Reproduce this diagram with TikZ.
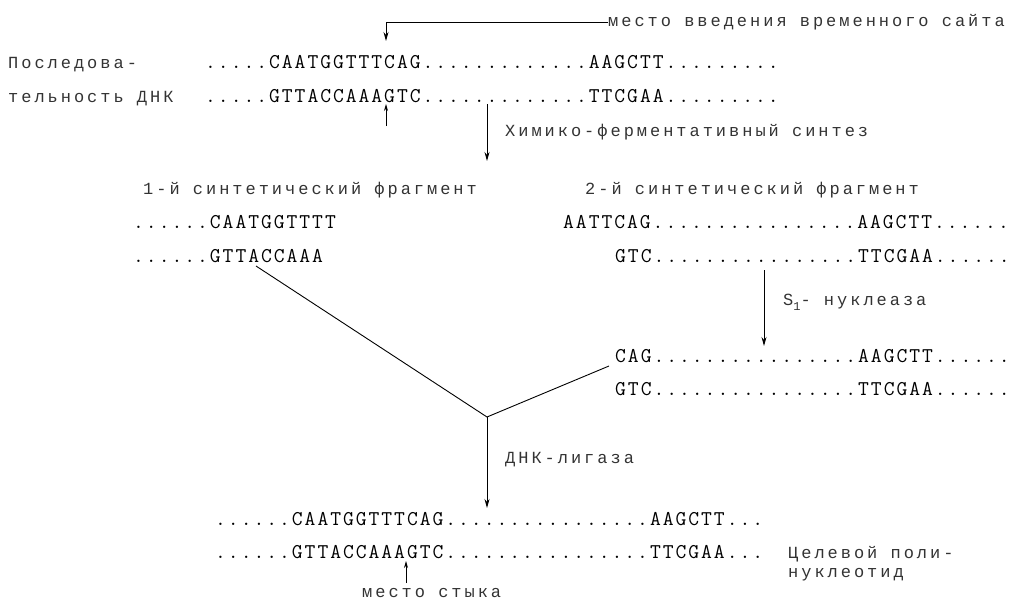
\documentclass[tikz,border=0pt]{standalone}
\usepackage{fontspec}
\newfontfamily\twl[LetterSpace=17.5]{Liberation Mono}
\newfontfamily\lmt[LetterSpace=9.4]{Latin Modern Mono}
\usetikzlibrary{arrows.meta,calc}
\begin{document}
\begin{tikzpicture}[x=1pt,y=-1pt,
  seq/.style={anchor=base west,inner sep=0pt,font=\lmt\fontsize{21}{23}\selectfont},
  lab/.style={anchor=base west,inner sep=0pt,font=\twl\fontsize{17}{19}\selectfont,text=black!80},
  arr/.style={-{Stealth[length=9pt,width=5pt]},line width=0.9pt},
  sarr/.style={-{Stealth[length=7pt,width=4pt]},line width=0.8pt},
  link/.style={line width=0.9pt}]
\useasboundingbox (0,0) rectangle (1025,602);
% left labels
\node[lab] (p1) at (8,68) {Последова-};
\node[lab] (p2) at (8,102) {тельность ДНК};
% original sequence
\node[seq] (r1) at (205,68) {.....CAATGGTTTCAG.............AAGCTT.........};
\node[seq] (r2) at (205,102) {.....GTTACCAAAGTC.............TTCGAA.........};
% site label and arrow
\node[lab] (site) at (608,27) {место введения временного сайта};
\coordinate (s1) at (386,41);
\draw[arr] (site.west) -| (s1);
\coordinate (u1a) at (386,126);
\coordinate (u1b) at (386,104);
\draw[sarr] (u1a) -- (u1b);
% synthesis
\coordinate (m1) at (487,104);
\coordinate (m2) at (487,161);
\draw[arr] (m1) -- (m2);
\node[lab] (chem) at (505,136) {Химико-ферментативный синтез};
\node[lab] (f1) at (143,194) {1-й синтетический фрагмент};
\node[lab] (f2) at (585,194) {2-й синтетический фрагмент};
% fragment 1
\node[seq] (r3) at (133,228) {......CAATGGTTTT};
\node[seq] (r4) at (133,262) {......GTTACCAAA};
% fragment 2
\node[seq] (r5) at (563,228) {AATTCAG................AAGCTT......};
\node[seq] (r6) at (615,262) {GTC................TTCGAA......};
% S1 nuclease
\coordinate (n1) at (764,270);
\coordinate (n2) at (764,346);
\draw[arr] (n1) -- (n2);
\node[lab] (s1lab) at (783,305) {S\raisebox{-5pt}{\fontsize{12}{13}\selectfont 1}- нуклеаза};
\node[seq] (r7) at (615,362) {CAG................AAGCTT......};
\node[seq] (r8) at (615,395) {GTC................TTCGAA......};
% ligation
\coordinate (j) at (487,417);
\coordinate (la) at (256,266);
\coordinate (lb) at (609,366);
\draw[link] (la) -- (j) -- (lb);
\coordinate (j2) at (487,508);
\draw[arr] (j) -- (j2);
\node[lab] (lig) at (505,463) {ДНК-лигаза};
% product
\node[seq] (r9) at (215,525) {......CAATGGTTTCAG................AAGCTT...};
\node[seq] (r10) at (215,558) {......GTTACCAAAGTC................TTCGAA...};
\node[lab] (t1) at (788,558) {Целевой поли-};
\node[lab] (t2) at (788,577) {нуклеотид};
\coordinate (b1) at (406,583);
\coordinate (b2) at (406,561);
\draw[sarr] (b1) -- (b2);
\node[lab] (join) at (362,597) {место стыка};
\end{tikzpicture}
\end{document}
